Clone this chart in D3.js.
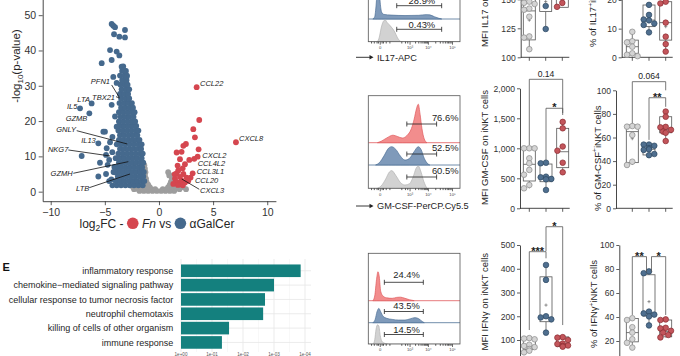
<!DOCTYPE html>
<html><head><meta charset="utf-8">
<script src="https://cdn.jsdelivr.net/npm/d3@7"></script>
<style>body{margin:0;background:#fff}svg{display:block;font-family:"Liberation Sans",Arial,Helvetica,sans-serif}.pre{white-space:pre}</style>
</head><body><svg id="c" width="680" height="356"></svg>
<script>
// ---------------- DATA ----------------
const volcanoGrayRows = [
  [0.2,[-1.8,-1.4,-1.0,-0.6,-0.2,0.2,0.6,1.0,1.4]],
  [0.7,[-2.3,-1.9,-1.5,-1.1,-0.7,-0.35,0.35,0.7,1.1,1.5,1.9,2.5]],
  [1.3,[-2.4,-2.0,-1.6,-1.2,-0.85,0.85,1.2,1.6,2.0,2.2]],
  [2.0,[-2.5,-2.1,-1.7,-1.3,-1.0,1.0,1.35,1.75]],
  [2.8,[-1.5,-1.15,1.1,1.45]],
  [3.7,[-1.4,-1.2,1.2]],
  [4.6,[-1.3,0.95,1.25]],
  [5.5,[-1.25,0.85]],
  [6.5,[-1.3]],
  [7.5,[-1.35]]
];
const volcanoBlueRows = [
  [1.8,[-4.3,-3.9,-3.5,-3.1,-2.7,-2.3,-1.9,-1.5]],
  [3.0,[-4.6,-4.0,-3.6,-3.2,-2.8,-2.4,-2.0,-1.6,-1.35]],
  [4.3,[-3.8,-3.4,-3.0,-2.6,-2.2,-1.8,-1.45]],
  [5.6,[-4.2,-3.7,-3.3,-2.9,-2.5,-2.1,-1.7,-1.4]],
  [6.9,[-3.9,-3.5,-3.1,-2.7,-2.3,-1.9,-1.55]],
  [8.2,[-3.7,-3.3,-2.9,-2.5,-2.1,-1.7,-1.45]],
  [9.5,[-4.0,-3.6,-3.2,-2.8,-2.4,-2.0,-1.6]],
  [10.8,[-3.75,-3.35,-2.95,-2.55,-2.15,-1.75,-1.5]],
  [12.1,[-3.6,-3.2,-2.8,-2.4,-2.0,-1.65]],
  [13.4,[-3.9,-3.5,-3.1,-2.7,-2.3,-1.9,-1.6]],
  [14.7,[-3.7,-3.3,-2.9,-2.5,-2.1,-1.8]],
  [16.0,[-3.6,-3.2,-2.8,-2.4,-2.0]],
  [17.3,[-3.75,-3.35,-2.95,-2.55,-2.15,-1.9]],
  [18.6,[-3.6,-3.2,-2.8,-2.4,-2.1]],
  [19.9,[-3.7,-3.3,-2.9,-2.5,-2.2]],
  [21.2,[-3.55,-3.15,-2.75,-2.35]],
  [22.5,[-3.7,-3.3,-2.9,-2.5,-2.25]],
  [23.8,[-3.5,-3.1,-2.7,-2.4]],
  [25.1,[-3.65,-3.25,-2.85,-2.5]],
  [26.4,[-3.5,-3.1,-2.75]],
  [27.7,[-3.6,-3.2,-2.85]],
  [29.0,[-3.45,-3.05,-2.75]],
  [30.3,[-3.55,-3.15,-2.9]],
  [31.6,[-3.4,-3.0]],
  [32.9,[-3.6,-3.2,-2.95]],
  [34.2,[-3.4,-3.05]],
  [35.5,[-3.3]]
];
const volcanoBlueOutliers = [
  [-4.37,47.5],[-4.22,47.0],[-4.06,46.6],[-3.14,45.8],[-4.15,44.6],[-3.66,43.9],[-3.14,43.7],
  [-4.52,40.1],[-3.91,39.7],[-3.66,38.6],[-5.29,36.4],[-4.37,37.3],[-3.45,35.4],[-3.23,34.4],
  [-4.22,32.5],[-2.99,32.5],[-3.91,30.8],[-6.22,25.0],[-7.29,23.6],[-6.43,22.2],[-4.37,24.6],
  [-4.06,21.3],[-5.14,17.0],[-4.99,17.0],[-3.91,18.4],[-4.52,14.0],[-5.6,13.7],[-4.83,12.3],
  [-4.31,11.2],[-4.89,10.4],[-7.14,10.1],[-5.45,8.2],[-4.74,7.6],[-4.12,7.0],[-4.89,5.0],
  [-5.6,4.3],[-4.4,3.5],[-4.6,9.0],[-4.3,15.5],[-4.1,5.5]
];
const volcanoRed = [
  [3.48,29.6],[3.72,20.3],[3.17,17.7],[3.32,15.4],[2.49,13.5],[2.25,13.0],[3.66,12.0],
  [2.09,11.3],[1.63,11.1],[7.11,14.0],[3.57,9.9],[3.26,9.3],[2.8,9.0],[1.94,9.2],[2.4,7.8],
  [1.72,7.4],[2.19,6.6],[3.11,5.2],[2.92,4.0],[1.63,5.2],[2.25,5.0],[1.94,4.2],[2.55,4.0],
  [1.48,3.7],[2.09,3.1],[1.63,2.8],[2.4,2.6],[1.32,2.2],[1.94,2.1],[2.71,3.1],[1.78,6.0],
  [1.45,4.9],[2.2,1.8],[1.75,1.9]
];
const volcanoYTicks = [0,10,20,30,40,50];
const volcanoXTicks = [-10,-5,0,5,10];
const geneLabels = [
  ["PFN1",-4.52,30.37,"L"],["TBX21",-4.06,25.98,"L"],["LTA",-6.37,25.41,"L"],["IL5",-7.54,23.29,"L"],
  ["GZMB",-6.62,20.03,"L"],["GNLY",-7.66,16.91,"L"],["IL13",-5.84,13.65,"L"],["NKG7",-8.37,11.25,"L"],
  ["GZMH",-7.97,4.45,"L"],["LTB",-6.44,0.2,"L"],
  ["CCL22",3.79,29.94,"R"],["CXCL8",7.39,14.36,"R"],["CXCL2",4.0,9.55,"R"],["CCL4L2",3.57,7.28,"R"],
  ["CCL3L1",3.48,4.87,"R"],["CCL20",3.32,2.32,"R"],["CXCL3",3.79,-0.51,"R"]
];
const geneLeaders = [
  [-4.37,30.23,-3.67,26.74],[-3.97,26.91,-3.65,26.54],[-7.6,17.28,-2.93,13.51],
  [-8.37,11.81,-4.52,10.11],[-7.91,5.21,-2.83,8.5],[-6.44,1.13,-2.68,5.01],[3.72,0.68,2.1,3.6]
];

const goTerms = ["inflammatory response","chemokine\u2212mediated signaling pathway","cellular response to tumor necrosis factor","neutrophil chemotaxis","killing of cells of other organism","immune response"];
const goValues = [3.86,3.0,2.71,2.65,1.55,1.32];
const goTicks = [0,1,2,3,4];
const goTickLabels = ["1e+00","1e-01","1e-02","1e-03","1e-04"];

const il17BlueHist = [[5,0],[7,0.1],[8.5,0.6],[10,1.4],[11.5,1.5],[13,0.7],[14.5,0.3],[17,0.2],[25,0.17],[40,0.15],[55,0.16],[63,0.19],[67,0.18],[72,0.1],[77,0.03],[80,0]];
const il17GrayHist = [[10,0],[12,0.2],[14,0.6],[16.5,0.9],[18.5,0.96],[20.5,0.85],[23.5,0.72],[26,0.6],[29,0.42],[31.5,0.2],[34,0.05],[36,0]];
const gmRedHist = [[10,0],[14,0.03],[20,0.1],[27,0.16],[32,0.13],[37,0.1],[42,0.15],[47,0.3],[50,0.5],[52.5,0.72],[54.5,0.82],[56.5,0.6],[58.5,0.3],[61,0.08],[64,0]];
const gmBlueHist = [[8,0],[12,0.1],[17,0.4],[22,0.75],[25.5,0.82],[30,0.7],[35,0.4],[40,0.22],[45,0.3],[50,0.6],[54.5,0.82],[57.5,0.7],[61,0.3],[65,0.05],[67,0]];
const gmGrayHist = [[10,0],[14,0.1],[19,0.4],[23,0.7],[25.5,0.76],[30,0.55],[35,0.25],[40,0.14],[45,0.2],[49,0.5],[52,0.85],[54.5,0.96],[57.5,0.7],[60.5,0.3],[64,0]];
const ifnRedHist = [[5,0],[7,0.1],[9,0.45],[10.5,0.61],[12,0.5],[13.5,0.2],[16,0.1],[20,0.06],[26,0.05],[31,0.07],[35,0.075],[40,0.05],[45,0.02],[50,0]];
const ifnBlueHist = [[5,0],[7.5,0.15],[9.5,0.5],[11.5,0.65],[13.5,0.5],[16,0.3],[20,0.2],[26,0.15],[33,0.12],[40,0.12],[46,0.18],[51,0.23],[55,0.18],[59,0.05],[61,0]];
const ifnGrayHist = [[5.5,0],[7,0.2],[8.5,0.7],[10,0.9],[11.5,0.85],[13,0.4],[15,0.12],[18,0.03],[21,0]];
const il17Pcts = ["28.9%","0.43%"];
const gmPcts = ["76.6%","52.5%","60.5%"];
const ifnPcts = ["24.4%","43.5%","14.5%"];
const il17Gate = [31,80];
const gmGate = [42,74.5];
const ifnGate = [17.5,60];
const flowMajorTicks = [12.5,45,65,91.3];
const flowTickLabels = ["0","10\u00B3","10\u2074","10\u2075"];
const flowMinorTicks = [3,6,9,10.5,14.5,16,19,23,36,40,42.5,51,54.5,57,59,60.6,62,63.2,64.2,73,78,81,83.5,85.5,87,88.5,89.8];
const flowMarkers = ["IL17-APC","GM-CSF-PerCP.Cy5.5"];

const il17MfiPts = [[107,117,118,135,141,142,146,147,148],[124.4,144.2,155,160,163],[143.5,146.9,152,158,165]];
const il17MfiBox = [[115,140,158,107,170,132],[139.4,152,166,124.4,175,148],[143.1,150,168,143.1,175,152]];
const il17PctPts = [[0.4,0.9,1.4,3.7,5.2,5.6,8.9],[8.7,11.3,11.8,12.9,13.2,14.8,18.3],[2.0,4.6,7.2,12.1,18.8,19.4]];
const il17PctBox = [[1.4,3.7,6.0,0.4,8.9,3.7],[10.7,13,18.25,8.7,18.25,13],[6.0,12.1,19.4,2.0,19.4,10.7]];
const gmMfiPts = [[333,388,560,640,750,833,1000,1000,1000],[305,483,490,517,527,750,760],[600,760,960,1030,1333,1440]];
const gmMfiBox = [[455,733,1017,333,1017,728],[443,517,738,305,760,547],[677,943,1333,600,1440,1020]];
const gmPctPts = [[36.7,39.5,62.1,69.2,69.2,69.7],[45,46,49.5,50,51,53,54,54],[57,64,65,66.5,68.6,69,77.6,82]];
const gmPctBox = [[38.7,65,70.6,36.7,70.6,59],[45.2,50,53.6,45,54,50],[64,67,77.6,57,82,68.7]];
const ifnMfiPts = [[48,55,62,70,75,80,103,106,108],[131,187,195,200,353,416],[72,75,77,83,85,100,110,112]];
const ifnMfiBox = [[60,75,104,48,108,79],[177,194,366,131,416,247],[72,83,113,72,113,89]];
const ifnPctPts = [[14.5,18.5,21.5,27,31.5,37.5,39],[33,40.5,42,43,44.5,76.5,78],[23,25,27,28.5,30.5,31,37.5,38]];
const ifnPctBox = [[19.3,27,38.8,14.5,39,27],[40.8,43,75.2,33,78,52.8],[23.5,28,37.5,23,38,30]];
const gmMfiSig = [[0,2,2150,1055,1588,"0.14"],[1,2,1667,805,1555,"*"]];
const gmPctSig = [[0,2,107.3,72,100,"0.064"],[1,2,93.7,58,86,"**"]];
const ifnMfiSig = [[0,1,471.8,142,444,"***"],[1,2,577,474,163,"*"]];
const ifnPctSig = [[0,1,90.3,41.7,77.8,"**"],[1,2,90.3,77.8,41.7,"*"]];

// ---------------- DRAW ----------------
const svg = d3.select("#c");
const RED = "#d5464f", BLUE = "#45698d", GRAY = "#9d9d9d", INK = "#262626";

function styleAxis(g, fs, color){
  g.attr("font-family", null).attr("font-size", null);
  g.selectAll("text").attr("font-size", fs).attr("fill", color);
  g.selectAll("line").attr("stroke", color).attr("stroke-width", 0.8);
  g.select(".domain").attr("stroke", color).attr("stroke-width", 0.9);
}
const flat = rows => rows.flatMap(([y, xs]) => xs.map(x => [x, y]));

// ===== Volcano =====
(function(){
  const xV = d3.scaleLinear().domain([-10.74, 10.8]).range([42.7, 275.9]);
  const yV = d3.scaleLinear().domain([-2.7, 56]).range([201.2, -6]);
  const g = svg.append("g");
  const dots = (pts, col) => g.append("g").selectAll("circle").data(pts).join("circle")
    .attr("cx", d => xV(d[0])).attr("cy", d => yV(d[1])).attr("r", 2.9).attr("fill", col);
  dots(flat(volcanoGrayRows), GRAY);
  dots(flat(volcanoBlueRows).concat(volcanoBlueOutliers), BLUE);
  dots(volcanoRed, RED);
  g.append("g").selectAll("line").data(geneLeaders).join("line")
    .attr("x1", d => xV(d[0])).attr("y1", d => yV(d[1])).attr("x2", d => xV(d[2])).attr("y2", d => yV(d[3]))
    .attr("stroke", "#111").attr("stroke-width", 0.8);
  g.append("g").selectAll("text").data(geneLabels).join("text")
    .attr("x", d => xV(d[1])).attr("y", d => yV(d[2]))
    .attr("text-anchor", d => d[3] === "L" ? "end" : "start")
    .attr("font-size", 7.5).attr("font-style", "italic").attr("fill", "#222").text(d => d[0]);
  const ax = g.append("g").call(d3.axisLeft(yV).tickValues(volcanoYTicks).tickSize(4).tickPadding(2.5).tickSizeOuter(0))
    .attr("transform", "translate(42.7,0)");
  styleAxis(ax, 10.5, "#333");
  const bx = g.append("g").call(d3.axisBottom(xV).tickValues(volcanoXTicks).tickSize(4).tickPadding(3).tickSizeOuter(0))
    .attr("transform", "translate(0,201.2)");
  styleAxis(bx, 10.5, "#333");
  const yt = g.append("text").attr("transform", "translate(19.5,66) rotate(-90)").attr("text-anchor", "middle")
    .attr("font-size", 11.5).attr("fill", INK);
  yt.append("tspan").text("-log");
  yt.append("tspan").attr("font-size", 8).attr("dy", 3).text("10");
  yt.append("tspan").attr("dy", -3).text("(p-value)");
  const lab = g.append("g");
  let cx = 0; const base = 227.5;
  function addText(str, o = {}){
    const t = lab.append("text").attr("class", "pre").attr("xml:space", "preserve").attr("x", cx).attr("y", base + (o.dy || 0))
      .attr("font-size", o.fs || 12).attr("fill", INK).text(str);
    if (o.italic) t.attr("font-style", "italic");
    cx += t.node().getComputedTextLength(); return t;
  }
  function addDot(col){ lab.append("circle").attr("cx", cx + 5.8).attr("cy", base - 4.2).attr("r", 5.8).attr("fill", col); cx += 11.6; }
  addText("log"); addText("2", {fs: 8.5, dy: 3}); addText("FC -\u00A0"); addDot(RED); addText("\u00A0");
  addText("Fn", {italic: true}); addText("\u00A0vs\u00A0"); addDot(BLUE); addText("\u00A0\u03B1GalCer");
  lab.attr("transform", `translate(${157 - cx / 2},0)`);
})();

// ===== Panel E bar chart =====
(function(){
  const g = svg.append("g");
  const yB = d3.scaleBand().domain(goTerms).range([263.6, 349.6]).paddingInner(0.12).paddingOuter(0.06);
  const xB = d3.scaleLinear().domain([0, 4]).range([181, 305]);
  g.append("g").selectAll("line.v").data(goTicks).join("line")
    .attr("x1", d => xB(d)).attr("x2", d => xB(d)).attr("y1", 259).attr("y2", 352)
    .attr("stroke", "#e6e6e6").attr("stroke-width", 0.8);
  g.append("g").selectAll("line.m").data(goTicks.slice(0, -1)).join("line")
    .attr("x1", d => xB(d + 0.5)).attr("x2", d => xB(d + 0.5)).attr("y1", 259).attr("y2", 352)
    .attr("stroke", "#f3f3f3").attr("stroke-width", 0.6);
  g.append("g").selectAll("line.h").data(goTerms).join("line")
    .attr("x1", 181).attr("x2", 311).attr("y1", d => yB(d) + yB.bandwidth() / 2).attr("y2", d => yB(d) + yB.bandwidth() / 2)
    .attr("stroke", "#e6e6e6").attr("stroke-width", 0.8);
  g.append("g").selectAll("rect").data(goTerms).join("rect")
    .attr("x", xB(0)).attr("y", d => yB(d)).attr("height", yB.bandwidth())
    .attr("width", (d, i) => xB(goValues[i]) - xB(0)).attr("fill", "#14807e");
  g.append("g").selectAll("text").data(goTerms).join("text")
    .attr("x", 173.3).attr("y", d => yB(d) + yB.bandwidth() / 2).attr("dy", "0.35em")
    .attr("text-anchor", "end").attr("font-size", 9).attr("fill", "#1e1e1e").text(d => d);
  g.append("g").selectAll("text").data(goTicks).join("text")
    .attr("x", d => xB(d)).attr("y", 355.6).attr("text-anchor", "middle").attr("font-size", 4.6)
    .attr("fill", "#555").text((d, i) => goTickLabels[i]);
  g.append("text").attr("x", 2.5).attr("y", 270.8).attr("font-size", 11).attr("font-weight", "bold").attr("fill", "#111").text("E");
})();

// ===== Flow histograms =====
const fx = d3.scaleLinear().domain([0, 100]).range([368.3, 460]);
const flowStyle = {
  red: {fill: "#f28d8d", stroke: "#e0595c"},
  blue: {fill: "#7f9aba", stroke: "#4d7096"},
  gray: {fill: "#d2d2d2", stroke: "#b3b3b3"}
};
function flowPanel(top, bottom, strips, pcts, gate, labelMode, marker, markerY){
  const g = svg.append("g");
  const cid = "clip" + Math.round(top + 100);
  g.append("clipPath").attr("id", cid).append("rect").attr("x", fx(0)).attr("y", top).attr("width", fx(100) - fx(0)).attr("height", bottom - top);
  const inner = g.append("g").attr("clip-path", `url(#${cid})`);
  strips.forEach((s, i) => {
    const st = flowStyle[s.col];
    const area = d3.area().x(d => fx(d[0])).y0(s.base).y1(d => s.base - d[1] * s.h).curve(d3.curveMonotoneX);
    inner.append("line").attr("x1", fx(0)).attr("x2", fx(100)).attr("y1", s.base).attr("y2", s.base).attr("stroke", st.stroke).attr("stroke-width", 0.8);
    inner.append("path").datum(s.data).attr("d", area).attr("fill", st.fill).attr("stroke", st.stroke).attr("stroke-width", 0.7);
    const by = s.gateY;
    g.append("path").attr("d", `M${fx(gate[0])},${by - 2.5}V${by + 2.5}M${fx(gate[0])},${by}H${fx(gate[1])}M${fx(gate[1])},${by - 2.5}V${by + 2.5}`)
      .attr("stroke", "#222").attr("stroke-width", 0.8).attr("fill", "none");
    const t = g.append("text").attr("y", s.textY).attr("font-size", 9.4).attr("fill", "#1e1e1e").text(pcts[i]);
    if (labelMode === "right") t.attr("x", fx(100) - 1.5).attr("text-anchor", "end");
    else t.attr("x", fx((gate[0] + gate[1]) / 2) + 2.7).attr("text-anchor", "middle");
  });
  g.append("rect").attr("x", fx(0)).attr("y", top).attr("width", fx(100) - fx(0)).attr("height", bottom - top)
    .attr("fill", "none").attr("stroke", "#555").attr("stroke-width", 0.8);
  const ma = g.append("g").attr("transform", `translate(0,${bottom})`)
    .call(d3.axisBottom(fx).tickValues(flowMinorTicks).tickSize(1.8).tickFormat(""));
  styleAxis(ma, 4, "#333"); ma.select(".domain").remove();
  const Ma = g.append("g").attr("transform", `translate(0,${bottom})`)
    .call(d3.axisBottom(fx).tickValues(flowMajorTicks).tickSize(3).tickPadding(1.5).tickFormat((d, i) => flowTickLabels[i]));
  styleAxis(Ma, 4.2, "#444"); Ma.select(".domain").remove();
  if (marker){
    g.append("line").attr("x1", 356).attr("x2", 370).attr("y1", markerY).attr("y2", markerY).attr("stroke", "#222").attr("stroke-width", 0.9);
    g.append("path").attr("d", `M369.5,${markerY - 2.3}L373.5,${markerY}L369.5,${markerY + 2.3}Z`).attr("fill", "#222");
    g.append("text").attr("x", 377).attr("y", markerY + 3.3).attr("font-size", 9.2).attr("fill", "#1e1e1e").text(marker);
  }
}
flowPanel(-12, 41.7, [
  {col: "blue", base: 19, h: 23, data: il17BlueHist, gateY: 5.7, textY: 4.3},
  {col: "gray", base: 41.7, h: 22.7, data: il17GrayHist, gateY: 29.3, textY: 27.8}
], il17Pcts, il17Gate, "center", flowMarkers[0], 57.3);
flowPanel(95.7, 188.3, [
  {col: "red", base: 142.7, h: 47, data: gmRedHist, gateY: 124, textY: 120.7},
  {col: "blue", base: 165, h: 22.3, data: gmBlueHist, gateY: 154, textY: 151},
  {col: "gray", base: 188.3, h: 23.3, data: gmGrayHist, gateY: 177, textY: 174.3}
], gmPcts, gmGate, "right", flowMarkers[1], 206);
flowPanel(253.3, 344, [
  {col: "red", base: 300.7, h: 47.4, data: ifnRedHist, gateY: 282.3, textY: 278.3},
  {col: "blue", base: 322.7, h: 22, data: ifnBlueHist, gateY: 311.5, textY: 309},
  {col: "gray", base: 344, h: 21.3, data: ifnGrayHist, gateY: 334.5, textY: 333}
], ifnPcts, ifnGate, "center", null, 0);

// ===== Box plots =====
const ptStyle = [
  {fill: "#d4d4d4", stroke: "#8a8a8a"},
  {fill: "#4f6f8f", stroke: "#2c4762"},
  {fill: "#c3555b", stroke: "#8a2b31"}
];
function boxPanel(c){
  const g = svg.append("g");
  const y = d3.scaleLinear().domain(c.domain).range(c.range);
  const y0 = c.range[0];
  const ax = g.append("g").attr("transform", `translate(${c.axisX},0)`)
    .call(d3.axisLeft(y).tickValues(c.ticks).tickSize(3).tickPadding(2).tickSizeOuter(0));
  styleAxis(ax, 8.6, "#333");
  g.append("line").attr("x1", c.axisX).attr("x2", c.xs[2] + 7).attr("y1", y0).attr("y2", y0).attr("stroke", "#333").attr("stroke-width", 0.9);
  g.append("g").selectAll("line").data(c.xs).join("line").attr("x1", d => d).attr("x2", d => d)
    .attr("y1", y0).attr("y2", y0 + 3.5).attr("stroke", "#333").attr("stroke-width", 0.8);
  const lt = g.append("text").attr("transform", `translate(${c.labelX},${c.labelY}) rotate(-90)`)
    .attr("text-anchor", c.labelAnchor).attr("font-size", 9.5).attr("fill", INK);
  lt.append("tspan").text(c.label[0]);
  if (c.label.length > 1){
    lt.append("tspan").attr("font-size", 6.5).attr("dy", -3.5).text("+");
    lt.append("tspan").attr("dy", 3.5).text(c.label[1]);
  }
  c.box.forEach((b, i) => {
    const x = c.xs[i], w = 6;
    const bg = g.append("g").attr("stroke", "#555").attr("stroke-width", 0.8).attr("fill", "none");
    bg.append("line").attr("x1", x).attr("x2", x).attr("y1", y(b[3])).attr("y2", y(b[0]));
    bg.append("line").attr("x1", x).attr("x2", x).attr("y1", y(b[2])).attr("y2", y(b[4]));
    bg.append("rect").attr("x", x - w).attr("width", 2 * w).attr("y", y(b[2])).attr("height", y(b[0]) - y(b[2])).attr("fill", "#fff");
    bg.append("line").attr("x1", x - w).attr("x2", x + w).attr("y1", y(b[1])).attr("y2", y(b[1]));
    bg.append("path").attr("d", `M${x - 1.6},${y(b[5])}H${x + 1.6}M${x},${y(b[5]) - 1.6}V${y(b[5]) + 1.6}`).attr("stroke-width", 0.6);
  });
  c.pts.forEach((vals, i) => {
    const placed = [];
    const offs = [0, -5.3, 5.3, -2.6, 2.6];
    vals.slice().sort((a, b) => b - a).forEach(v => {
      const py = y(v);
      let px = c.xs[i];
      for (const o of offs){
        const cand = c.xs[i] + o;
        if (placed.every(p => Math.hypot(p[0] - cand, p[1] - py) >= 4.9)){ px = cand; break; }
      }
      placed.push([px, py]);
    });
    g.append("g").selectAll("circle").data(placed).join("circle")
      .attr("cx", d => d[0]).attr("cy", d => d[1]).attr("r", 2.8)
      .attr("fill", ptStyle[i].fill).attr("stroke", ptStyle[i].stroke).attr("stroke-width", 0.7);
  });
  (c.sig || []).forEach((s, k) => {
    let xa = c.xs[s[0]], xb = c.xs[s[1]];
    (c.sig || []).forEach((o, j) => {
      if (j !== k && o[2] === s[2]){
        if (o[0] === s[1]) xb -= 2.5;
        if (o[1] === s[0]) xa += 2.5;
      }
    });
    const ly = y(s[2]);
    g.append("path").attr("d", `M${xa},${y(s[3])}V${ly}H${xb}V${y(s[4])}`)
      .attr("fill", "none").attr("stroke", "#555").attr("stroke-width", 0.8);
    const star = /^\*+$/.test(s[5]);
    g.append("text").attr("x", (xa + xb) / 2).attr("y", star ? ly + 3.2 : ly - 2.5).attr("text-anchor", "middle")
      .attr("font-size", star ? 11 : 8.6).attr("font-weight", star ? "bold" : "normal").attr("fill", "#222").text(s[5]);
  });
}
const xsA = [529.3, 545.7, 562.3], xsB = [632.3, 649, 665.7], xsC = [529.3, 546, 562.7];
boxPanel({domain: [100, 175], range: [57.3, -29.7], ticks: [100, 125, 150], axisX: 520.7, xs: xsA,
  label: ["MFI IL17 on iNKT cells"], labelX: 488.3, labelY: 47, labelAnchor: "start", pts: il17MfiPts, box: il17MfiBox});
boxPanel({domain: [0, 30], range: [57.3, -28.65], ticks: [0, 10, 20], axisX: 621.7, xs: xsB,
  label: ["% of IL17", "iNKT cells"], labelX: 596.3, labelY: 47, labelAnchor: "start", pts: il17PctPts, box: il17PctBox});
boxPanel({domain: [0, 2000], range: [208.3, 88.3], ticks: [0, 500, 1000, 1500, 2000], axisX: 520, xs: xsC,
  label: ["MFI GM-CSF on iNKT cells"], labelX: 488.3, labelY: 205, labelAnchor: "start", pts: gmMfiPts, box: gmMfiBox, sig: gmMfiSig});
boxPanel({domain: [0, 100], range: [208.3, 90.3], ticks: [0, 20, 40, 60, 80, 100], axisX: 616, xs: xsB,
  label: ["% of GM-CSF", "iNKT cells"], labelX: 600.8, labelY: 211, labelAnchor: "start", pts: gmPctPts, box: gmPctBox, sig: gmPctSig});
boxPanel({domain: [0, 500], range: [363.75, 245], ticks: [100, 200, 300, 400, 500], axisX: 520, xs: xsC,
  label: ["MFI IFN\u03B3 on iNKT cells"], labelX: 488.3, labelY: 253, labelAnchor: "end", pts: ifnMfiPts, box: ifnMfiBox, sig: ifnMfiSig});
boxPanel({domain: [0, 100], range: [365, 245], ticks: [20, 40, 60, 80, 100], axisX: 619.3, xs: xsB,
  label: ["% of IFN\u03B3", "iNKT cells"], labelX: 597.3, labelY: 260, labelAnchor: "end", pts: ifnPctPts, box: ifnPctBox, sig: ifnPctSig});
</script></body></html>
